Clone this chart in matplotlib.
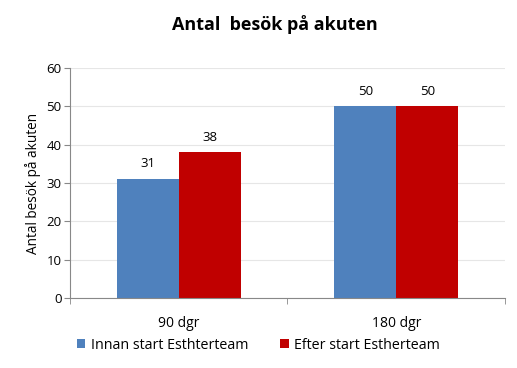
import matplotlib
matplotlib.use('Agg')
import matplotlib.pyplot as plt
import numpy as np

categories = ['90 dgr', '180 dgr']
innan = [31, 50]
efter = [38, 50]
series_names = ['Innan start Esthterteam', 'Efter start Estherteam']
yticks = [0, 10, 20, 30, 40, 50, 60]

plt.rcParams['font.family'] = ['Open Sans', 'DejaVu Sans']

fig = plt.figure(figsize=(5.17, 3.68), dpi=100)
ax = fig.add_axes([0.135, 0.19, 0.842, 0.625])

x = np.arange(len(categories))
w = 0.285
b1 = ax.bar(x - w / 2, innan, w, color='#4F81BD', label=series_names[0])
b2 = ax.bar(x + w / 2, efter, w, color='#C00000', label=series_names[1])
for bars in (b1, b2):
    for r in bars:
        ax.text(r.get_x() + r.get_width() / 2, r.get_height() + 2.3, '%d' % r.get_height(),
                ha='center', va='bottom', fontsize=9.5)

ax.set_xlim(-0.5, 1.5)
ax.set_ylim(0, 60)
ax.set_yticks(yticks)
ax.tick_params(axis='y', labelsize=9.5, length=4, color='#888888', pad=2)
ax.set_xticks(x)
ax.set_xticklabels(categories, fontsize=10)
ax.tick_params(axis='x', length=0, pad=13)
ax.set_xticks([-0.5, 0.5, 1.5], minor=True)
ax.tick_params(axis='x', which='minor', length=4, color='#888888')
ax.grid(axis='y', color='#E6E6E6', linewidth=0.8)
ax.set_axisbelow(True)
for s in ('top', 'right'):
    ax.spines[s].set_visible(False)
for s in ('left', 'bottom'):
    ax.spines[s].set_color('#888888')
ax.set_ylabel('Antal besök på akuten', fontsize=9.8, labelpad=4)

fig.suptitle('Antal  besök på akuten', fontsize=13, fontweight='bold', x=0.532, y=0.96)
fig.legend(loc='center', bbox_to_anchor=(0.5, 0.062), ncol=2, frameon=False,
           fontsize=10.3, handlelength=0.6, handleheight=0.6, columnspacing=2.2, handletextpad=0.4)

fig.savefig('out.png', dpi=100)
